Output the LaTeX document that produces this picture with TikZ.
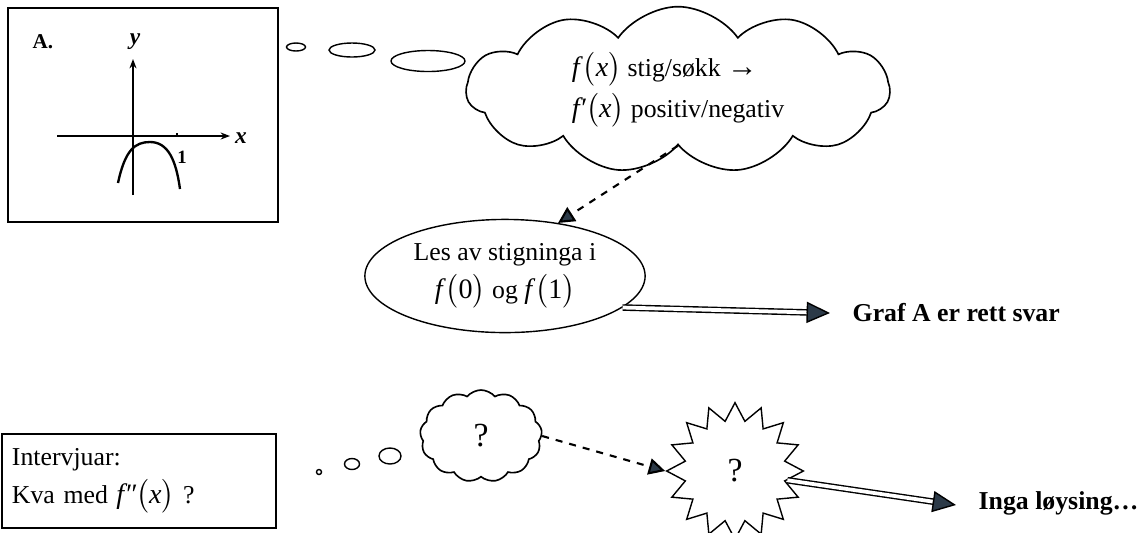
\documentclass[tikz,border=0pt]{standalone}
\usepackage{fontspec}
\setmainfont{Liberation Serif}
\usepackage{amsmath}
\usetikzlibrary{positioning}
\usetikzlibrary{calc}
\usetikzlibrary{arrows.meta}
\usetikzlibrary{shapes.geometric}
\usetikzlibrary{shapes.symbols}
\definecolor{headgray}{RGB}{44,58,72}
\newcommand{\fof}[2]{{\large\textit{#1}$\bigl($#2$\bigr)$}}

\tikzset{
  thought/.style={cloud, draw, line width=0.7pt, inner sep=0pt},
  dasharrow/.style={dashed, line width=0.9pt, -{Triangle[length=7pt,width=7pt,fill=headgray]}},
  twoline/.style={double, double distance=1.6pt, line width=0.6pt},
  bighead/.style={-{Triangle[length=10pt,width=9pt,fill=headgray]}, line width=0.6pt},
  result/.style={font=\bfseries\fontsize{11}{13}\selectfont, anchor=west, inner sep=0pt},
}

\begin{document}
\begin{tikzpicture}[x=0.015cm, y=-0.015cm, line width=0.6pt, font=\fontsize{11}{13}\selectfont]
\useasboundingbox (0,0) rectangle (1145,532);
% -- graph A --
\draw[line width=1pt] (8,8) rectangle (278,222);
\node[font=\bfseries\small] (labA) at (43,42) {A.};
\draw[-{Stealth[length=4pt,width=3pt]}] (133,195) -- (133,59);
\draw[-{Stealth[length=4pt,width=3pt]}] (57,136) -- (230,136);
\node[font=\bfseries\itshape] (ylab) at (135,42) {y};
\node[font=\bfseries\itshape] (xlab) at (241,138) {x};
\draw (177,133) -- (177,136);
\node[font=\footnotesize\bfseries] (one) at (182,157) {1};
\draw[line width=1pt] (118,183) .. controls (125,150) and (135,142) .. (150,142) .. controls (168,142) and (176,160) .. (180,189);
% -- top thought --
\draw (296,47) ellipse [x radius=9.5, y radius=4];
\draw (352,50) ellipse [x radius=23, y radius=7];
\draw (428,61) ellipse [x radius=37, y radius=10.5];
\node[thought, cloud puffs=11, cloud puff arc=110, aspect=2.5, minimum width=6.35cm, minimum height=2.5cm, align=left] (thinkA) at (678,90)
  {\fof{f}{\textit{x}} stig/søkk {\fontsize{13}{13}\selectfont\bfseries →}\\[2pt] \fof{f′}{\textit{x}} positiv/negativ};
\node[ellipse, draw, minimum width=3.98cm, minimum height=1.62cm, align=center] (readoff) at (505,276)
  {Les av stigninga i\\[3pt] \fof{f}{0} og \fof{f}{1}};
\node[result] (resA) at (852,313) {Graf A er rett svar};
\draw[dasharrow] (thinkA.south) -- (readoff.45);
\coordinate (tipA) at ($(resA.west)+(-22,0)$);
\draw[twoline, shorten >=9pt] (readoff.-15) -- (tipA);
\draw[bighead] ($(tipA)!10pt!(readoff.-15)$) -- (tipA);
% -- interviewer --
\node[draw, line width=0.8pt, minimum width=4.11cm, minimum height=1.4cm, text width=3.81cm, inner sep=0.15cm, align=left] (askbox) at (139,481)
  {Intervjuar:\\[3pt] Kva med \fof{f″}{\textit{x}} ?};
\draw (319,472) circle [radius=2.5];
\draw (352,464) ellipse [x radius=7.5, y radius=5.5];
\draw (390,456) ellipse [x radius=11, y radius=8];
\node[thought, cloud puffs=13, cloud puff arc=100, aspect=1.3, minimum width=1.83cm, minimum height=1.38cm] (thinkB) at (481,436) {\Large ?};
\node[star, draw, star points=16, star point ratio=1.35, minimum size=2.05cm, inner sep=0pt] (flash) at (735,471) {\Large ?};
\node[result] (resB) at (978,503) {Inga løysing…};
\draw[dasharrow] (thinkB.east) -- (flash.180);
\coordinate (tipB) at ($(resB.west)+(-22,2)$);
\draw[twoline, shorten >=9pt] (flash.-10) -- (tipB);
\draw[bighead] ($(tipB)!10pt!(flash.-10)$) -- (tipB);
\end{tikzpicture}
\end{document}
